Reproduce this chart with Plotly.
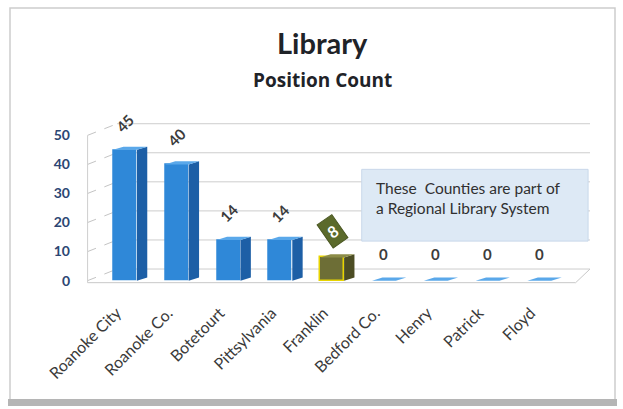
import plotly.graph_objects as go

# Position counts per locality
categories = ["Roanoke City", "Roanoke Co.", "Botetourt", "Pittsylvania", "Franklin",
              "Bedford Co.", "Henry", "Patrick", "Floyd"]
positions = [45, 40, 14, 14, 8, 0, 0, 0, 0]
y_ticks = [0, 10, 20, 30, 40, 50]
highlight = "Franklin"

FONT = "Lato"
W, H = 623, 409
ML, MR, MT, MB = 85, 33, 115, 124
X_RANGE = [-0.772, 8.977]
Y_RANGE = [-1.5, 57]

HALF = 0.23      # half width of the bar front face
DEPTH_X = 0.2    # depth offset of the 3-D side, x units
DEPTH_Y = 1.1    # depth rise of the 3-D side, y units
WALL = 4.0       # back-wall rise of the gridlines, y units

fig = go.Figure()

blue = dict(front="#2f88d8", side="#1d5fa6", top="#5aa8ea")
olive = dict(front="#6d6e36", side="#4c4d24", top="#8c8c48")

xs = list(range(len(categories)))
front_colors = [olive["front"] if c == highlight else blue["front"] for c in categories]
line_colors = ["#e8d400" if c == highlight else "rgba(0,0,0,0)" for c in categories]

# front faces of the bars
fig.add_trace(go.Bar(
    x=xs, y=positions, width=2 * HALF,
    marker=dict(color=front_colors, line=dict(color=line_colors, width=1.5)),
    hoverinfo="skip", showlegend=False,
))

# side and top faces give each bar its depth
for i, (c, v) in enumerate(zip(categories, positions)):
    pal = olive if c == highlight else blue
    r = i + HALF
    l = i - HALF
    fig.add_trace(go.Scatter(
        x=[r, r, r + DEPTH_X, r + DEPTH_X, r], y=[0, v, v + DEPTH_Y, DEPTH_Y, 0],
        mode="lines", fill="toself", fillcolor=pal["side"], line=dict(width=0),
        hoverinfo="skip", showlegend=False))
    fig.add_trace(go.Scatter(
        x=[l, r, r + DEPTH_X, l + DEPTH_X, l], y=[v, v, v + DEPTH_Y, v + DEPTH_Y, v],
        mode="lines", fill="toself", fillcolor=pal["top"], line=dict(width=0),
        hoverinfo="skip", showlegend=False))

shapes = []
x_wall = X_RANGE[0] + 0.62
# back-wall gridlines with dashed perspective legs
for t in y_ticks:
    shapes.append(dict(type="line", xref="x", yref="y", x0=x_wall, x1=X_RANGE[1],
                       y0=t + WALL, y1=t + WALL, line=dict(color="#cdcdcd", width=1),
                       layer="below"))
    shapes.append(dict(type="line", xref="x", yref="y", x0=X_RANGE[0] + 0.05, x1=x_wall,
                       y0=t, y1=t + WALL, line=dict(color="#c4c4c4", width=1, dash="dash"),
                       layer="below"))
# left wall edge and floor edge
shapes.append(dict(type="line", xref="x", yref="y", x0=X_RANGE[0] + 0.05, x1=X_RANGE[0] + 0.05,
                   y0=-0.7, y1=50, line=dict(color="#cfcfcf", width=1), layer="below"))
shapes.append(dict(type="line", xref="x", yref="y", x0=X_RANGE[0] + 0.05, x1=8.7,
                   y0=-0.7, y1=-0.7, line=dict(color="#c8c8c8", width=1), layer="below"))
shapes.append(dict(type="line", xref="x", yref="y", x0=8.7, x1=X_RANGE[1],
                   y0=-0.7, y1=WALL, line=dict(color="#c8c8c8", width=1), layer="below"))

# note box
shapes.append(dict(type="rect", xref="x", yref="y", x0=4.57, x1=8.94, y0=13.6, y1=38.3,
                   fillcolor="#dde9f5", line=dict(color="#c9d8ea", width=1), layer="below"))


def px_x(p):
    return (p - ML) / (W - ML - MR)


def px_y(p):
    return (H - MB - p) / (H - MT - MB)


# outer chart frame
shapes.append(dict(type="rect", xref="paper", yref="paper",
                   x0=px_x(10), x1=px_x(615), y0=px_y(400), y1=px_y(8),
                   line=dict(color="#cdcdcd", width=1.5), fillcolor="rgba(0,0,0,0)",
                   layer="below"))
shapes.append(dict(type="rect", xref="paper", yref="paper",
                   x0=px_x(8), x1=px_x(617), y0=px_y(406), y1=px_y(399),
                   line=dict(width=0), fillcolor="#b5b5b5", layer="below"))

annotations = []
# value labels above the bars
for i, (c, v) in enumerate(zip(categories, positions)):
    if c == highlight:
        annotations.append(dict(
            x=i, y=v, xref="x", yref="y", text=f"<b>{v}</b>", showarrow=False,
            yshift=26, textangle=-35,
            font=dict(family=FONT, size=16, color="white"),
            bgcolor="#5b6a2b", bordercolor="#4a5722", borderpad=4))
    else:
        annotations.append(dict(
            x=i, y=v, xref="x", yref="y", text=str(v), showarrow=False,
            yshift=27, textangle=-45 if v else 0,
            font=dict(family=FONT, size=15, color="#3c3c3c", weight="bold")))

annotations.append(dict(
    x=4.8, y=28.4, xref="x", yref="y", xanchor="left", yanchor="middle", align="left",
    text="These  Counties are part of<br>a Regional Library System", showarrow=False,
    font=dict(family=FONT, size=15.5, color="#303030")))

# titles
annotations.append(dict(
    x=px_x(322), y=px_y(43), xref="paper", yref="paper", xanchor="center", yanchor="middle",
    text="<b>Library</b>", showarrow=False, font=dict(family=FONT, size=29, color="#1f2328")))
annotations.append(dict(
    x=px_x(322), y=px_y(80), xref="paper", yref="paper", xanchor="center", yanchor="middle",
    text="<b>Position Count</b>", showarrow=False,
    font=dict(family="Open Sans", size=19, color="#1f2328")))

# trailing spaces nudge the slanted category names down and to the left
tick_text = [c + "\u00a0\u00a0\u00a0" for c in categories]

fig.update_layout(
    width=W, height=H,
    margin=dict(l=ML, r=MR, t=MT, b=MB),
    paper_bgcolor="white", plot_bgcolor="white",
    shapes=shapes, annotations=annotations,
    xaxis=dict(range=X_RANGE, tickvals=xs, ticktext=tick_text, tickangle=-45,
               showgrid=False, zeroline=False, showline=False, ticks="",
               ticklabelstandoff=6,
               tickfont=dict(family=FONT, size=16, color="#3a3a3a")),
    yaxis=dict(range=Y_RANGE, tickvals=y_ticks, showgrid=False, zeroline=False,
               showline=False, ticks="", ticklabelstandoff=14,
               tickfont=dict(family=FONT, size=14, color="#2c4673", weight="bold")),
    bargap=0,
)

fig.write_html("out.html")
